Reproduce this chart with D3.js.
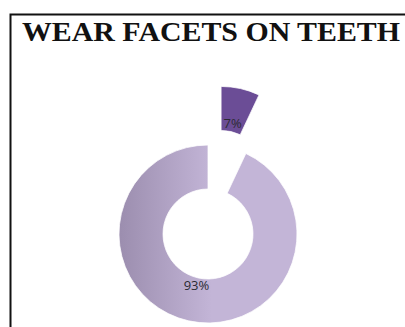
<!DOCTYPE html>
<html>
<head>
<meta charset="utf-8">
<script src="https://cdn.jsdelivr.net/npm/d3@7"></script>
<style>
  body { margin: 0; background: #fff; }
  svg { display: block; }
</style>
</head>
<body>
<div class="viewbox"></div>
<script>
  // chart data
  const title = "WEAR FACETS ON TEETH"
  const categories = ["Wear facets present", "No wear facets"]
  const values = [7, 93]
  const explode = [60, 0]   // excel style pulled out slice
  const colors = ["#6b4d96", "url(#bigGrad)"]

  const svg_width = 405;
  const svg_height = 327;

  const cx = 208, cy = 234
  const outerR = 89, innerR = 45, labelR = 53

  let svg = d3.select(".viewbox")
    .append("svg")
    .attr("width", svg_width)
    .attr("height", svg_height)

  // gradient for the big slice (darker on the left), coords are relative to the donut centre
  let grad = svg.append("defs").append("linearGradient")
    .attr("id", "bigGrad")
    .attr("gradientUnits", "userSpaceOnUse")
    .attr("x1", 118 - cx).attr("x2", 212 - cx)
    .attr("y1", 0).attr("y2", 0)
  grad.append("stop").attr("offset", "0%").attr("stop-color", "#9b8dae")
  grad.append("stop").attr("offset", "100%").attr("stop-color", "#c3b5d7")

  // frame
  svg.append("path")
    .attr("d", "M10.5," + (svg_height + 2) + "V14.5H" + (svg_width + 2))
    .attr("fill", "none")
    .attr("stroke", "#111")
    .attr("stroke-width", 2)

  svg.append("text")
    .attr("x", 22)
    .attr("y", 40.5)
    .attr("textLength", 378)
    .attr("lengthAdjust", "spacingAndGlyphs")
    .text(title)
    .style("font-family", "'Liberation Serif', 'Times New Roman', serif")
    .style("font-weight", "bold")
    .style("font-size", "26.5px")
    .attr("fill", "#111")

  let pie = d3.pie().sort(null).value(d => d)
  let arcs = pie(values)

  let arc = d3.arc().innerRadius(innerR).outerRadius(outerR)
  let labelArc = d3.arc().innerRadius(labelR).outerRadius(labelR)

  const offset = (d, i) => {
    let a = (d.startAngle + d.endAngle) / 2
    return [Math.sin(a) * explode[i], -Math.cos(a) * explode[i]]
  }

  let g = svg.append("g").attr("transform", "translate(" + cx + "," + cy + ")")

  let slices = g.selectAll("g.slice")
    .data(arcs)
    .enter()
    .append("g")
    .attr("class", "slice")
    .attr("transform", (d, i) => "translate(" + offset(d, i) + ")")

  slices.append("path")
    .attr("d", arc)
    .attr("fill", (d, i) => colors[i])
    .attr("stroke", "#fff")
    .attr("stroke-width", 0.75)

  slices.append("text")
    .attr("transform", d => "translate(" + labelArc.centroid(d) + ")")
    .attr("text-anchor", "middle")
    .attr("dy", "0.35em")
    .text(d => d.data + "%")
    .style("font-family", "'Open Sans', sans-serif")
    .style("font-size", "13px")
    .attr("fill", "#2b2b33")
</script>
</body>
</html>
